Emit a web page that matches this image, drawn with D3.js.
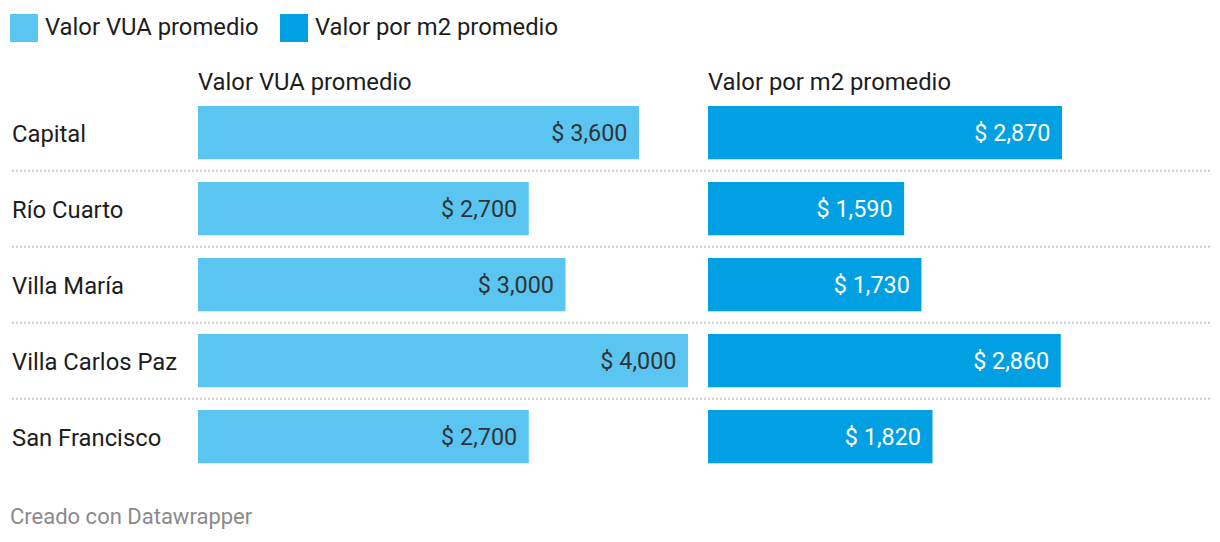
<!DOCTYPE html>
<html>
<head>
<meta charset="utf-8">
<script src="https://cdn.jsdelivr.net/npm/d3@7"></script>
<style>
  html, body { margin: 0; padding: 0; background: #fff; }
  svg { display: block; font-family: Roboto, "Noto Sans", sans-serif; }
</style>
</head>
<body>
<svg id="chart" width="1220" height="542"></svg>
<script>
const categories = ["Capital", "Río Cuarto", "Villa María", "Villa Carlos Paz", "San Francisco"];
const seriesNames = ["Valor VUA promedio", "Valor por m2 promedio"];
const vuaValues = [3600, 2700, 3000, 4000, 2700];
const m2Values = [2870, 1590, 1730, 2860, 1820];
const colors = ["#5bc5f2", "#00a0e3"];
const labelColors = ["#333333", "#ffffff"];

const svg = d3.select("#chart");
const fontSize = 23.8;
const valueFontSize = 23.4;

// Legend
const legend = svg.append("g");
const legendX = [10, 280];
seriesNames.forEach((name, i) => {
  legend.append("rect").attr("x", legendX[i]).attr("y", 14).attr("width", 28).attr("height", 28).attr("fill", colors[i]);
  legend.append("text").attr("x", legendX[i] + 35).attr("y", 34.5)
    .attr("font-size", fontSize).attr("fill", "#1d1d1d").text(name);
});

// Rows
const rowTop = 106, rowStep = 76, barH = 53.3;
const y = d3.scaleBand().domain(categories).range([rowTop, rowTop + rowStep * categories.length]).paddingInner(0).paddingOuter(0);

const columns = [
  { name: seriesNames[0], values: vuaValues, x0: 198, scale: d3.scaleLinear().domain([0, 4000]).range([0, 490]) },
  { name: seriesNames[1], values: m2Values, x0: 708, scale: d3.scaleLinear().domain([0, 2870]).range([0, 354]) }
];

// Separators
categories.slice(0, -1).forEach((c) => {
  const yy = y(c) + barH + 11.5;
  svg.append("line").attr("x1", 12).attr("x2", 1210).attr("y1", yy).attr("y2", yy)
    .attr("stroke", "#cccccc").attr("stroke-width", 2).attr("stroke-dasharray", "2,2");
});

// Row labels
svg.append("g").selectAll("text").data(categories).join("text")
  .attr("x", 12).attr("y", d => y(d) + barH / 2 + 8.9)
  .attr("font-size", fontSize).attr("fill", "#1d1d1d").text(d => d);

const fmt = d3.format(",");
columns.forEach((col, ci) => {
  svg.append("text").attr("x", col.x0).attr("y", 89.5)
    .attr("font-size", fontSize).attr("fill", "#1d1d1d").text(col.name);
  const g = svg.append("g");
  g.selectAll("rect").data(categories).join("rect")
    .attr("x", col.x0).attr("y", d => y(d))
    .attr("width", (d, i) => col.scale(col.values[i])).attr("height", barH)
    .attr("fill", colors[ci]);
  g.selectAll("text").data(categories).join("text")
    .attr("x", (d, i) => col.x0 + col.scale(col.values[i]) - 11.5)
    .attr("y", d => y(d) + barH / 2 + 8)
    .attr("text-anchor", "end").attr("font-size", valueFontSize).attr("fill", labelColors[ci])
    .text((d, i) => "$ " + fmt(col.values[i]));
});

// Footer
svg.append("text").attr("x", 10).attr("y", 524).attr("font-size", 22).attr("fill", "#8a8a8a").text("Creado con Datawrapper");
</script>
</body>
</html>
